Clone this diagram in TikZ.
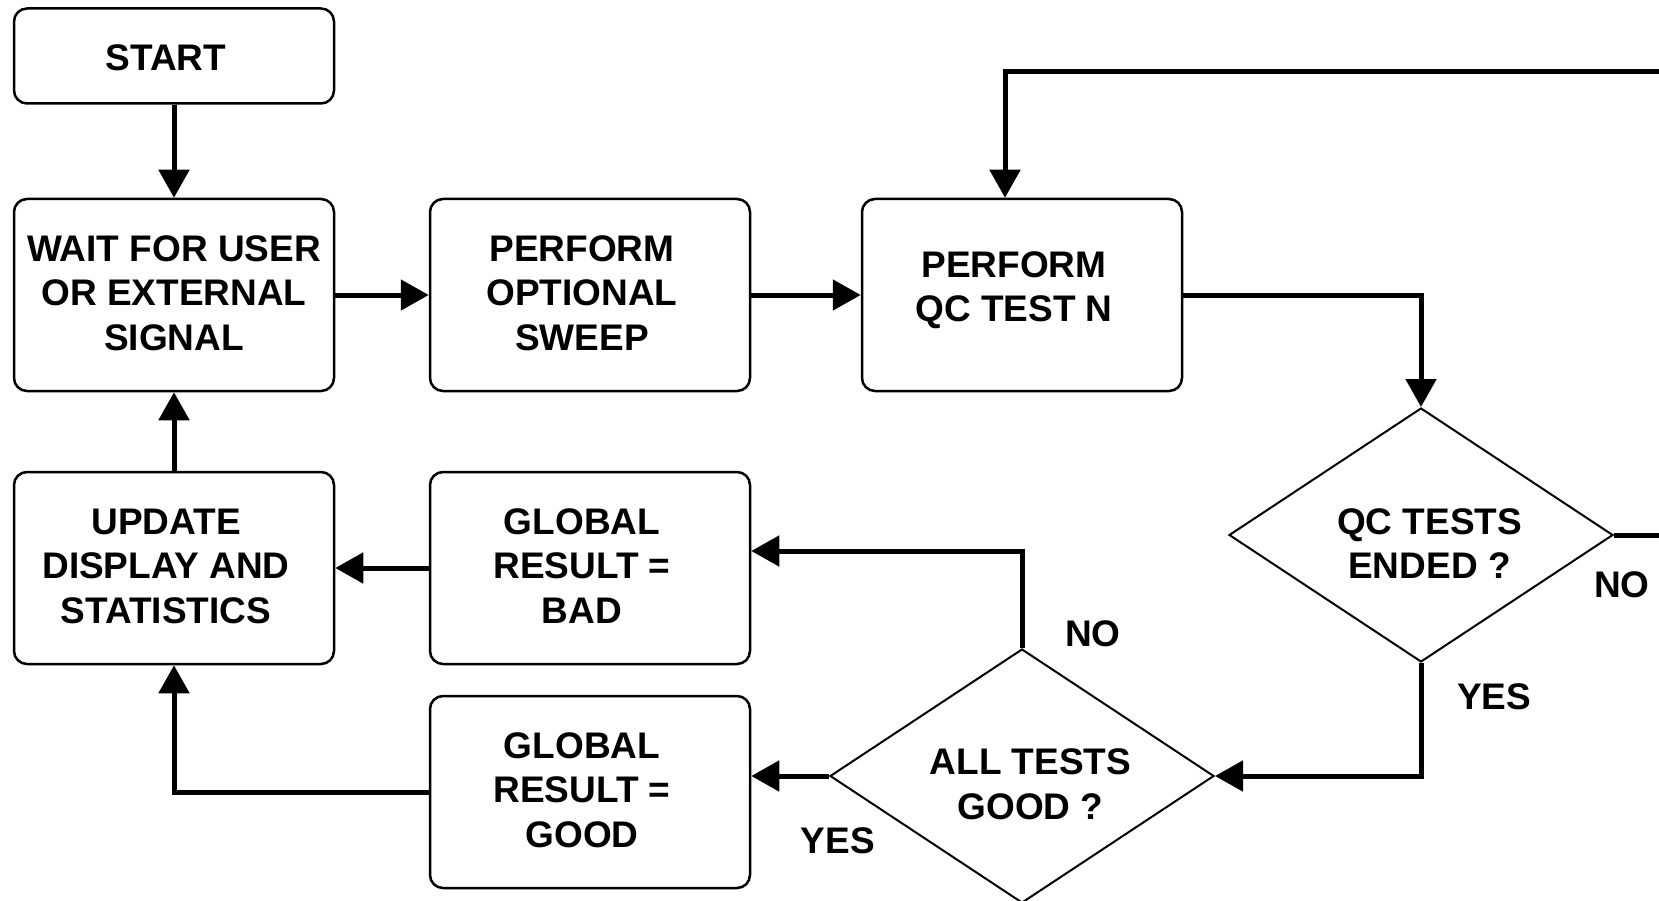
\documentclass[tikz,border=0pt]{standalone}
\usepackage{fontspec}
\setmainfont{Liberation Sans}
\usetikzlibrary{arrows.meta,shapes.geometric}

\begin{document}
\begin{tikzpicture}[x=1pt,y=-1pt,
  every node/.style={font=\fontsize{37}{44.5}\selectfont\bfseries, align=center},
  stepbox/.style={draw, line width=2.5pt, rounded corners=13pt,
    minimum width=320pt, minimum height=192pt, inner sep=0pt},
  startbox/.style={stepbox, minimum height=95pt},
  decision/.style={draw, diamond, line width=2pt, inner sep=0pt,
    minimum width=384pt, minimum height=254pt, shape aspect=1.51},
  boxtext/.style={xshift=-8pt, yshift=2pt},
  dectext/.style={xshift=8.5pt, yshift=-8.5pt},
  conn/.style={line width=5pt, -{Triangle[width=30pt,length=28pt]}},
  plainline/.style={line width=5pt},
  tag/.style={inner sep=0pt}]

\useasboundingbox (0,0) rectangle (1659,901);
\clip (0,0) rectangle (1659,901);

% process boxes
\node[startbox] (start) at (174,56) {};
\node[stepbox]  (wait)  at (174,295) {};
\node[stepbox]  (sweep) at (590,295) {};
\node[stepbox]  (qc)    at (1022,295) {};
\node[stepbox]  (upd)   at (174,568) {};
\node[stepbox]  (bad)   at (590,568) {};
\node[stepbox]  (good)  at (590,792) {};

% box texts
\node[boxtext, yshift=-4pt] (start-t) at (start.center) {START};
\node[boxtext, xshift=8pt]  (wait-t)  at (wait.center) {WAIT FOR USER\\OR EXTERNAL\\SIGNAL};
\node[boxtext]  (sweep-t) at (sweep.center) {PERFORM\\OPTIONAL\\SWEEP};
\node[boxtext, yshift=3pt] (qc-t) at (qc.center) {PERFORM\\QC TEST N};
\node[boxtext]  (upd-t)   at (upd.center) {UPDATE\\DISPLAY AND\\STATISTICS};
\node[boxtext]  (bad-t)   at (bad.center) {GLOBAL\\RESULT =\\BAD};
\node[boxtext]  (good-t)  at (good.center) {GLOBAL\\RESULT =\\GOOD};

% decisions
\node[decision] (dq)   at (1421,535) {};
\node[decision] (dall) at (1022,776) {};
\node[dectext] (dq-t)   at (dq.center) {QC TESTS\\ENDED ?};
\node[dectext] (dall-t) at (dall.center) {ALL TESTS\\GOOD ?};

% branch labels
\node[tag] (noq)    at (1622,585) {NO};
\node[tag] (yesq)   at (1494,697) {YES};
\node[tag] (noall)  at (1093,634) {NO};
\node[tag] (yesall) at (838,841) {YES};

% loop ends running past the right edge
\coordinate (loopin)  at (1720,72);
\coordinate (loopout) at (1720,535);

% connectors
\draw[conn] (start) -- (wait);
\draw[conn] (wait) -- (sweep);
\draw[conn] (sweep) -- (qc);
\draw[conn] (loopin) -| ([xshift=-17pt]qc.north);
\draw[conn] (qc.east) -| (dq.north);
\draw[plainline] (dq.east) -- (loopout);
\draw[conn] (dq.south) |- (dall.east);
\draw[conn] (dall.north) |- ([yshift=17pt]bad.east);
\draw[conn] (dall.west) -- (dall.west -| good.east);
\draw[conn] (bad.west) -- (upd.east);
\draw[conn] (good.west) -| (upd.south);
\draw[conn] (upd) -- (wait);

\end{tikzpicture}
\end{document}
